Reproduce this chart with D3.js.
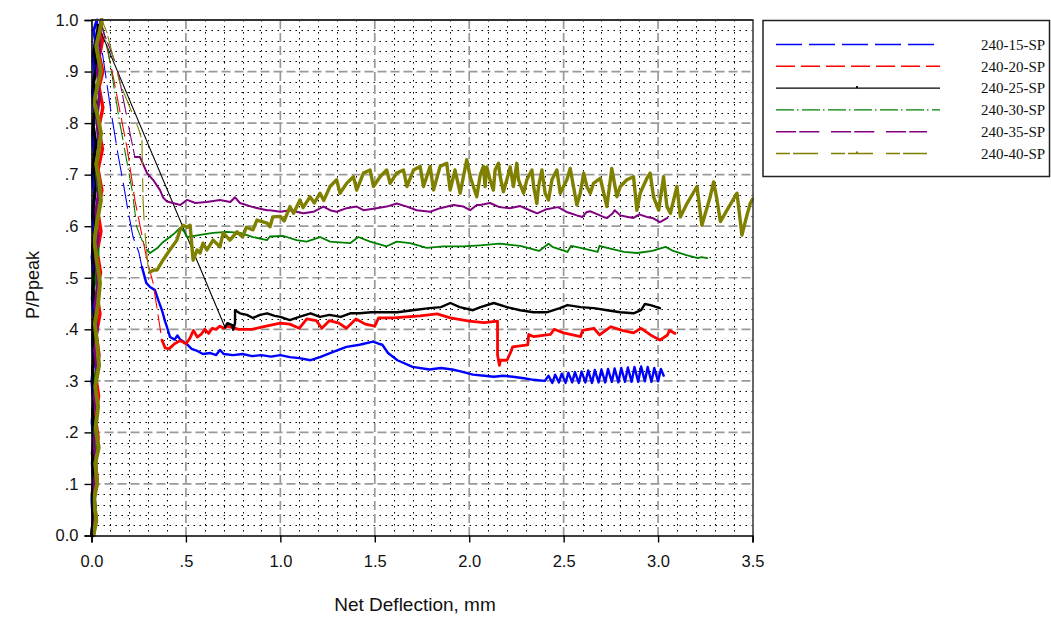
<!DOCTYPE html>
<html>
<head>
<meta charset="utf-8">
<script src="https://cdn.jsdelivr.net/npm/d3@7"></script>
<style>
  body { margin: 0; background: #fff; }
  svg { display: block; }
</style>
</head>
<body>
<svg id="chart" width="1051" height="618"></svg>
<script>
// ---- Axis ticks ----
const xTicks = [0, 0.5, 1.0, 1.5, 2.0, 2.5, 3.0, 3.5];
const xTickLabels = ["0.0", ".5", "1.0", "1.5", "2.0", "2.5", "3.0", "3.5"];
const yTicks = [0, 0.1, 0.2, 0.3, 0.4, 0.5, 0.6, 0.7, 0.8, 0.9, 1.0];
const yTickLabels = ["0.0", ".1", ".2", ".3", ".4", ".5", ".6", ".7", ".8", ".9", "1.0"];

// ---- Specimen names ----
const seriesNames = ["240-15-SP", "240-20-SP", "240-25-SP", "240-30-SP", "240-35-SP", "240-40-SP"];

// ---- 240-15-SP : [net deflection mm, P/Ppeak] ----
const rise15 = [[0,0],[0.008,0.03],[0.002,0.07],[0.012,0.1],[0.004,0.14],[0.014,0.18],[0.003,0.22],[0.011,0.26],[0.002,0.3],[0.013,0.34],[0.005,0.38],[0.016,0.42],[0.004,0.46],[0.014,0.5],[0.003,0.54],[0.015,0.58],[0.005,0.62],[0.017,0.66],[0.004,0.7],[0.015,0.74],[0.006,0.78],[0.018,0.82],[0.005,0.86],[0.017,0.9],[0.008,0.93],[0.02,0.96],[0.012,0.98],[0.025,0.995],[0.03,1.0]];
const drop15 = [[0.06,0.93],[0.1,0.83],[0.14,0.74],[0.17,0.68],[0.193,0.631],[0.22,0.579],[0.25,0.55]];
const tail15 = [[0.267,0.521],[0.29,0.49],[0.31,0.482],[0.336,0.476],[0.355,0.455],[0.373,0.437],[0.39,0.415],[0.40,0.404],[0.416,0.385],[0.44,0.38],[0.455,0.388],[0.47,0.38],[0.5,0.373],[0.53,0.362],[0.56,0.358],[0.59,0.352],[0.63,0.354],[0.66,0.35],[0.68,0.36],[0.7,0.352],[0.75,0.35],[0.8,0.352],[0.85,0.348],[0.9,0.35],[0.95,0.347],[1.0,0.35],[1.05,0.346],[1.1,0.344],[1.16,0.34],[1.21,0.346],[1.28,0.356],[1.35,0.366],[1.42,0.37],[1.49,0.376],[1.52,0.372],[1.54,0.37],[1.57,0.354],[1.62,0.34],[1.70,0.327],[1.79,0.322],[1.85,0.325],[1.91,0.322],[1.96,0.318],[2.02,0.312],[2.08,0.31],[2.13,0.308],[2.18,0.31],[2.23,0.308],[2.29,0.305],[2.34,0.302],[2.40,0.30],[2.42,0.31],[2.44,0.296],[2.455,0.312],[2.475,0.297],[2.49,0.314],[2.51,0.296],[2.525,0.316],[2.545,0.297],[2.56,0.317],[2.58,0.296],[2.595,0.318],[2.615,0.297],[2.63,0.32],[2.65,0.296],[2.665,0.321],[2.685,0.297],[2.70,0.322],[2.72,0.297],[2.735,0.323],[2.755,0.298],[2.77,0.324],[2.79,0.297],[2.805,0.325],[2.825,0.298],[2.84,0.326],[2.86,0.298],[2.875,0.327],[2.895,0.298],[2.91,0.328],[2.93,0.299],[2.945,0.327],[2.965,0.298],[2.98,0.325],[3.0,0.299],[3.015,0.323],[3.03,0.31]];

// ---- 240-20-SP ----
const rise20 = [[0.01,0],[0.025,0.03],[0.015,0.07],[0.03,0.11],[0.018,0.15],[0.035,0.19],[0.02,0.23],[0.038,0.27],[0.022,0.31],[0.04,0.35],[0.025,0.39],[0.045,0.43],[0.028,0.47],[0.048,0.51],[0.03,0.55],[0.05,0.59],[0.033,0.63],[0.055,0.67],[0.035,0.71],[0.058,0.75],[0.038,0.79],[0.06,0.83],[0.04,0.87],[0.06,0.9],[0.042,0.93],[0.058,0.96],[0.045,0.98],[0.05,1.0]];
const drop20 = [[0.115,0.89],[0.19,0.748],[0.23,0.65],[0.294,0.534],[0.326,0.49]];
const tail20 = [[0.373,0.379],[0.38,0.373],[0.39,0.364],[0.41,0.362],[0.44,0.372],[0.47,0.378],[0.5,0.372],[0.52,0.382],[0.54,0.398],[0.56,0.385],[0.58,0.39],[0.6,0.4],[0.62,0.392],[0.64,0.402],[0.66,0.4],[0.68,0.406],[0.7,0.402],[0.72,0.406],[0.78,0.4],[0.85,0.4],[0.9,0.404],[0.95,0.408],[1.0,0.412],[1.05,0.41],[1.1,0.402],[1.14,0.42],[1.19,0.417],[1.22,0.402],[1.26,0.417],[1.31,0.412],[1.35,0.402],[1.4,0.42],[1.45,0.41],[1.5,0.406],[1.52,0.422],[1.6,0.422],[1.74,0.426],[1.83,0.43],[1.9,0.422],[2.0,0.416],[2.08,0.413],[2.15,0.416],[2.15,0.39],[2.15,0.35],[2.16,0.33],[2.165,0.34],[2.2,0.34],[2.22,0.356],[2.23,0.366],[2.31,0.37],[2.315,0.39],[2.34,0.386],[2.43,0.39],[2.45,0.4],[2.5,0.393],[2.59,0.386],[2.6,0.398],[2.66,0.402],[2.69,0.389],[2.75,0.405],[2.81,0.398],[2.87,0.393],[2.91,0.402],[2.96,0.389],[3.01,0.379],[3.05,0.389],[3.06,0.398],[3.09,0.392]];

// ---- 240-25-SP ----
const rise25 = [[0.0,0],[0.012,0.04],[0.003,0.08],[0.015,0.12],[0.004,0.16],[0.018,0.2],[0.006,0.24],[0.02,0.28],[0.005,0.32],[0.018,0.36],[0.007,0.4],[0.022,0.44],[0.008,0.48],[0.02,0.52],[0.006,0.56],[0.022,0.6],[0.009,0.64],[0.025,0.68],[0.01,0.72],[0.024,0.76],[0.008,0.8],[0.026,0.84],[0.012,0.88],[0.028,0.91],[0.014,0.94],[0.03,0.97],[0.035,0.99]];
const drop25 = [];
const tail25 = [[0.707,0.404],[0.72,0.412],[0.745,0.408],[0.75,0.399],[0.76,0.412],[0.76,0.437],[0.786,0.431],[0.823,0.428],[0.855,0.422],[0.892,0.428],[0.93,0.431],[0.97,0.426],[1.0,0.424],[1.05,0.418],[1.1,0.424],[1.16,0.431],[1.21,0.424],[1.26,0.428],[1.32,0.424],[1.37,0.431],[1.42,0.431],[1.48,0.433],[1.53,0.433],[1.62,0.433],[1.70,0.437],[1.79,0.441],[1.85,0.443],[1.9,0.451],[1.95,0.443],[2.02,0.437],[2.06,0.443],[2.13,0.451],[2.2,0.443],[2.27,0.437],[2.34,0.433],[2.41,0.433],[2.48,0.441],[2.52,0.447],[2.59,0.443],[2.66,0.441],[2.73,0.437],[2.8,0.433],[2.87,0.431],[2.91,0.437],[2.93,0.449],[2.96,0.447],[3.01,0.441]];

// ---- 240-30-SP ----
const rise30 = [[0.01,0],[0.022,0.05],[0.014,0.1],[0.028,0.15],[0.016,0.2],[0.03,0.25],[0.018,0.3],[0.033,0.35],[0.02,0.4],[0.035,0.45],[0.022,0.5],[0.036,0.55],[0.024,0.6],[0.038,0.65],[0.026,0.7],[0.04,0.75],[0.028,0.8],[0.042,0.85],[0.032,0.9],[0.045,0.94],[0.038,0.97],[0.05,1.0]];
const drop30 = [[0.087,0.942],[0.15,0.8],[0.215,0.67],[0.24,0.598],[0.267,0.573]];
const tail30 = [[0.294,0.554],[0.31,0.548],[0.347,0.557],[0.378,0.569],[0.415,0.579],[0.442,0.587],[0.47,0.597],[0.49,0.59],[0.506,0.579],[0.575,0.583],[0.644,0.587],[0.718,0.589],[0.787,0.587],[0.855,0.579],[0.929,0.573],[0.945,0.58],[1.016,0.581],[1.086,0.573],[1.139,0.57],[1.21,0.579],[1.263,0.57],[1.369,0.567],[1.413,0.579],[1.475,0.57],[1.563,0.561],[1.616,0.57],[1.687,0.567],[1.775,0.558],[1.864,0.561],[1.969,0.561],[2.058,0.563],[2.16,0.566],[2.27,0.562],[2.37,0.552],[2.42,0.566],[2.44,0.56],[2.52,0.55],[2.54,0.562],[2.59,0.558],[2.68,0.55],[2.69,0.562],[2.73,0.558],[2.82,0.55],[2.89,0.548],[2.97,0.552],[3.04,0.56],[3.05,0.558],[3.08,0.552],[3.15,0.544],[3.21,0.538],[3.23,0.54],[3.26,0.538]];

// ---- 240-35-SP ----
const rise35 = [[0.005,0],[0.02,0.04],[0.01,0.09],[0.025,0.13],[0.012,0.18],[0.028,0.22],[0.014,0.27],[0.03,0.31],[0.016,0.36],[0.032,0.4],[0.018,0.45],[0.034,0.49],[0.02,0.54],[0.036,0.58],[0.022,0.63],[0.038,0.67],[0.024,0.72],[0.04,0.76],[0.026,0.81],[0.042,0.85],[0.03,0.9],[0.045,0.94],[0.04,0.97],[0.05,1.0]];
const drop35 = [[0.06,0.98],[0.135,0.909],[0.204,0.78]];
const tail35 = [[0.23,0.734],[0.257,0.734],[0.294,0.703],[0.326,0.69],[0.363,0.67],[0.38,0.655],[0.4,0.648],[0.43,0.645],[0.47,0.641],[0.506,0.651],[0.55,0.645],[0.61,0.647],[0.68,0.651],[0.735,0.647],[0.76,0.656],[0.786,0.645],[0.855,0.637],[0.929,0.631],[0.945,0.631],[1.0,0.628],[1.051,0.631],[1.122,0.625],[1.175,0.628],[1.228,0.638],[1.263,0.631],[1.298,0.628],[1.351,0.635],[1.404,0.638],[1.44,0.631],[1.51,0.635],[1.563,0.638],[1.616,0.644],[1.67,0.638],[1.722,0.631],[1.793,0.628],[1.846,0.635],[1.917,0.641],[1.969,0.638],[2.005,0.631],[2.04,0.641],[2.058,0.641],[2.11,0.645],[2.16,0.637],[2.216,0.635],[2.27,0.639],[2.32,0.631],[2.36,0.625],[2.41,0.633],[2.47,0.637],[2.52,0.627],[2.57,0.621],[2.6,0.618],[2.62,0.627],[2.64,0.629],[2.68,0.623],[2.71,0.618],[2.73,0.616],[2.76,0.625],[2.77,0.631],[2.8,0.621],[2.84,0.618],[2.87,0.616],[2.9,0.623],[2.94,0.618],[2.97,0.616],[3.01,0.608],[3.05,0.616]];

// ---- 240-40-SP ----
const rise40 = [[0.01,0],[0.025,0.03],[0.012,0.07],[0.03,0.1],[0.02,0.14],[0.038,0.17],[0.022,0.21],[0.035,0.25],[0.02,0.29],[0.04,0.33],[0.03,0.37],[0.018,0.41],[0.035,0.45],[0.045,0.49],[0.03,0.53],[0.015,0.57],[0.03,0.61],[0.05,0.65],[0.04,0.69],[0.025,0.72],[0.04,0.75],[0.05,0.78],[0.035,0.81],[0.015,0.84],[0.03,0.87],[0.05,0.9],[0.035,0.93],[0.025,0.95],[0.045,0.98],[0.055,1.0]];
const drop40 = [[0.082,0.975],[0.15,0.878],[0.246,0.792],[0.257,0.78],[0.267,0.767],[0.273,0.651],[0.28,0.6],[0.3,0.52]];
const tail40 = [[0.31,0.511],[0.33,0.515],[0.347,0.515],[0.378,0.534],[0.415,0.554],[0.452,0.573],[0.469,0.593],[0.485,0.602],[0.506,0.598],[0.522,0.602],[0.538,0.534],[0.559,0.554],[0.575,0.548],[0.59,0.567],[0.611,0.554],[0.644,0.573],[0.68,0.56],[0.697,0.587],[0.733,0.573],[0.77,0.589],[0.8,0.579],[0.82,0.598],[0.855,0.593],[0.876,0.612],[0.93,0.606],[0.945,0.599],[0.96,0.618],[1.0,0.619],[1.02,0.61],[1.051,0.638],[1.07,0.625],[1.104,0.651],[1.12,0.636],[1.157,0.657],[1.18,0.645],[1.21,0.664],[1.23,0.65],[1.263,0.677],[1.298,0.69],[1.316,0.664],[1.351,0.683],[1.387,0.696],[1.404,0.67],[1.44,0.703],[1.475,0.709],[1.493,0.677],[1.528,0.696],[1.563,0.709],[1.581,0.683],[1.616,0.703],[1.652,0.709],[1.67,0.677],[1.705,0.709],[1.74,0.716],[1.758,0.677],[1.793,0.716],[1.811,0.67],[1.846,0.716],[1.881,0.722],[1.899,0.67],[1.925,0.709],[1.952,0.664],[1.987,0.729],[2.005,0.696],[2.04,0.657],[2.058,0.699],[2.075,0.716],[2.084,0.677],[2.093,0.715],[2.11,0.69],[2.128,0.67],[2.137,0.709],[2.155,0.722],[2.164,0.696],[2.181,0.667],[2.199,0.69],[2.217,0.715],[2.234,0.677],[2.252,0.722],[2.261,0.69],[2.288,0.664],[2.305,0.69],[2.332,0.709],[2.341,0.677],[2.358,0.644],[2.367,0.677],[2.385,0.709],[2.402,0.664],[2.42,0.651],[2.438,0.69],[2.464,0.709],[2.482,0.664],[2.517,0.69],[2.535,0.712],[2.552,0.677],[2.57,0.641],[2.588,0.664],[2.606,0.703],[2.623,0.677],[2.641,0.664],[2.658,0.683],[2.694,0.693],[2.729,0.638],[2.755,0.712],[2.782,0.657],[2.8,0.677],[2.835,0.69],[2.87,0.696],[2.888,0.631],[2.905,0.664],[2.941,0.693],[2.958,0.703],[2.976,0.657],[3.003,0.631],[3.029,0.696],[3.047,0.638],[3.065,0.625],[3.1,0.677],[3.118,0.618],[3.153,0.644],[3.206,0.677],[3.232,0.602],[3.276,0.657],[3.294,0.686],[3.312,0.651],[3.33,0.609],[3.365,0.631],[3.418,0.664],[3.444,0.583],[3.471,0.622],[3.488,0.644],[3.5,0.652]];

// ---- Series styling ----
const series = [
  { name: seriesNames[0], rise: rise15, drop: drop15, tail: tail15, color: "#0000ff", width: 2.4, dash: "26,7" },
  { name: seriesNames[1], rise: rise20, drop: drop20, tail: tail20, color: "#ff0000", width: 2.8, dash: "19,6" },
  { name: seriesNames[2], rise: rise25, drop: drop25, tail: tail25, color: "#000000", width: 2.4, dash: null },
  { name: seriesNames[3], rise: rise30, drop: drop30, tail: tail30, color: "#008000", width: 1.8, dash: "18,3,1.5,3.5" },
  { name: seriesNames[4], rise: rise35, drop: drop35, tail: tail35, color: "#800080", width: 2,   dash: "20,3.3,20,11.7" },
  { name: seriesNames[5], rise: rise40, drop: drop40, tail: tail40, color: "#808000", width: 3.4, dash: "14,3,25,13" }
];

// ---- Layout ----
const svg = d3.select("#chart");
const plot = { left: 91.5, right: 752.5, top: 20, bottom: 535.5 };

const x = d3.scaleLinear().domain([0, 3.5]).range([plot.left, plot.right]);
const y = d3.scaleLinear().domain([0, 1]).range([plot.bottom, plot.top]);

svg.append("rect").attr("width", 1051).attr("height", 618).attr("fill", "#fff");

svg.append("defs").append("clipPath").attr("id", "plotClip")
  .append("rect")
  .attr("x", plot.left - 2).attr("y", plot.top - 2)
  .attr("width", plot.right - plot.left + 4).attr("height", plot.bottom - plot.top + 4);

// ---- Grid: dotted minor lines ----
const grid = svg.append("g");
const yMinor = d3.range(1, 50).map(i => i / 50).filter(v => Math.round(v * 50) % 5 !== 0);
const xMinor = d3.range(1, 36).map(i => i / 10).filter(v => Math.round(v * 10) % 5 !== 0);

grid.selectAll(".ym").data(yMinor).join("line")
  .attr("x1", plot.left).attr("x2", plot.right)
  .attr("y1", d => Math.round(y(d)) + 0.5).attr("y2", d => Math.round(y(d)) + 0.5)
  .attr("stroke", "#000").attr("stroke-width", 1).attr("stroke-dasharray", "1.5,4.5");
grid.selectAll(".xm").data(xMinor).join("line")
  .attr("y1", plot.top).attr("y2", plot.bottom)
  .attr("x1", d => Math.round(x(d)) + 0.5).attr("x2", d => Math.round(x(d)) + 0.5)
  .attr("stroke", "#000").attr("stroke-width", 1).attr("stroke-dasharray", "1.5,4.5");

// ---- Grid: dashed major lines ----
grid.selectAll(".yM").data(yTicks.filter(v => v > 0 && v < 1)).join("line")
  .attr("x1", plot.left).attr("x2", plot.right)
  .attr("y1", d => y(d)).attr("y2", d => y(d))
  .attr("stroke", "#999").attr("stroke-width", 1.7).attr("stroke-dasharray", "9,4");
grid.selectAll(".xM").data(xTicks.filter(v => v > 0 && v < 3.5)).join("line")
  .attr("y1", plot.top).attr("y2", plot.bottom)
  .attr("x1", d => x(d)).attr("x2", d => x(d))
  .attr("stroke", "#999").attr("stroke-width", 1.7).attr("stroke-dasharray", "9,4");

// ---- Curves ----
const line = d3.line().x(d => x(d[0])).y(d => y(d[1]));
const curves = svg.append("g").attr("clip-path", "url(#plotClip)");

series.forEach(s => {
  const g = curves.append("g");
  const peak = s.rise[s.rise.length - 1];
  const dropPts = [peak, ...s.drop, s.tail[0]];
  g.append("path").attr("d", line(dropPts))
    .attr("fill", "none").attr("stroke", s.color).attr("stroke-width", 1.1)
    .attr("stroke-dasharray", s.dash);
  g.append("path").attr("d", line(s.rise))
    .attr("fill", "none").attr("stroke", s.color)
    .attr("stroke-width", s.width + 0.6).attr("stroke-linejoin", "round").attr("stroke-linecap", "round");
  g.append("path").attr("d", line(s.tail))
    .attr("fill", "none").attr("stroke", s.color)
    .attr("stroke-width", s.width).attr("stroke-linejoin", "round").attr("stroke-linecap", "round");
});

// ---- Frame ----
svg.append("line").attr("x1", plot.left).attr("x2", plot.right + 1).attr("y1", plot.top).attr("y2", plot.top)
  .attr("stroke", "#333").attr("stroke-width", 2);
svg.append("line").attr("x1", plot.right + 0.5).attr("x2", plot.right + 0.5).attr("y1", plot.top).attr("y2", plot.bottom)
  .attr("stroke", "#333").attr("stroke-width", 1.5);

// ---- Axes ----
const axisFont = "'Liberation Sans', Arial, sans-serif";
const yAxis = svg.append("g").attr("transform", `translate(${plot.left},0)`)
  .call(d3.axisLeft(y).tickValues(yTicks).tickSize(7).tickPadding(6)
    .tickFormat((d, i) => yTickLabels[i]));
const xAxis = svg.append("g").attr("transform", `translate(0,${plot.bottom})`)
  .call(d3.axisBottom(x).tickValues(xTicks).tickSize(7).tickPadding(13)
    .tickFormat((d, i) => xTickLabels[i]));

[xAxis, yAxis].forEach(a => {
  a.select(".domain").attr("stroke", "#000").attr("stroke-width", 1.6);
  a.selectAll(".tick line").attr("stroke", "#000").attr("stroke-width", 1.4);
  a.selectAll(".tick text").attr("font-family", axisFont).attr("font-size", 16.5).attr("fill", "#111");
});

// ---- Axis titles ----
svg.append("text").attr("x", 415).attr("y", 611)
  .attr("text-anchor", "middle").attr("font-family", axisFont).attr("font-size", 19).attr("fill", "#111")
  .text("Net Deflection, mm");
svg.append("text").attr("transform", "translate(39,285) rotate(-90)")
  .attr("text-anchor", "middle").attr("font-family", axisFont).attr("font-size", 18).attr("fill", "#111")
  .text("P/Ppeak");

// ---- Legend ----
const legend = svg.append("g");
legend.append("rect").attr("x", 763).attr("y", 20.5).attr("width", 286.5).attr("height", 156)
  .attr("fill", "#fff").attr("stroke", "#222").attr("stroke-width", 1.5);

const legendEnd = [935, 940, 940, 940, 927, 927];
series.forEach((s, i) => {
  const ly = 44.5 + i * 21.8;
  legend.append("line").attr("x1", 776).attr("x2", legendEnd[i]).attr("y1", ly).attr("y2", ly)
    .attr("stroke", s.color).attr("stroke-width", 1.4).attr("stroke-dasharray", s.dash);
  if (i === 2 || i === 5) {
    legend.append("rect").attr("x", 856).attr("y", ly - 2).attr("width", 2).attr("height", 2).attr("fill", s.color);
  }
  legend.append("text").attr("x", 981).attr("y", ly).attr("dy", "0.35em")
    .attr("font-family", "'Liberation Serif', 'Times New Roman', serif").attr("font-size", 15).attr("fill", "#111")
    .text(s.name);
});
</script>
</body>
</html>
